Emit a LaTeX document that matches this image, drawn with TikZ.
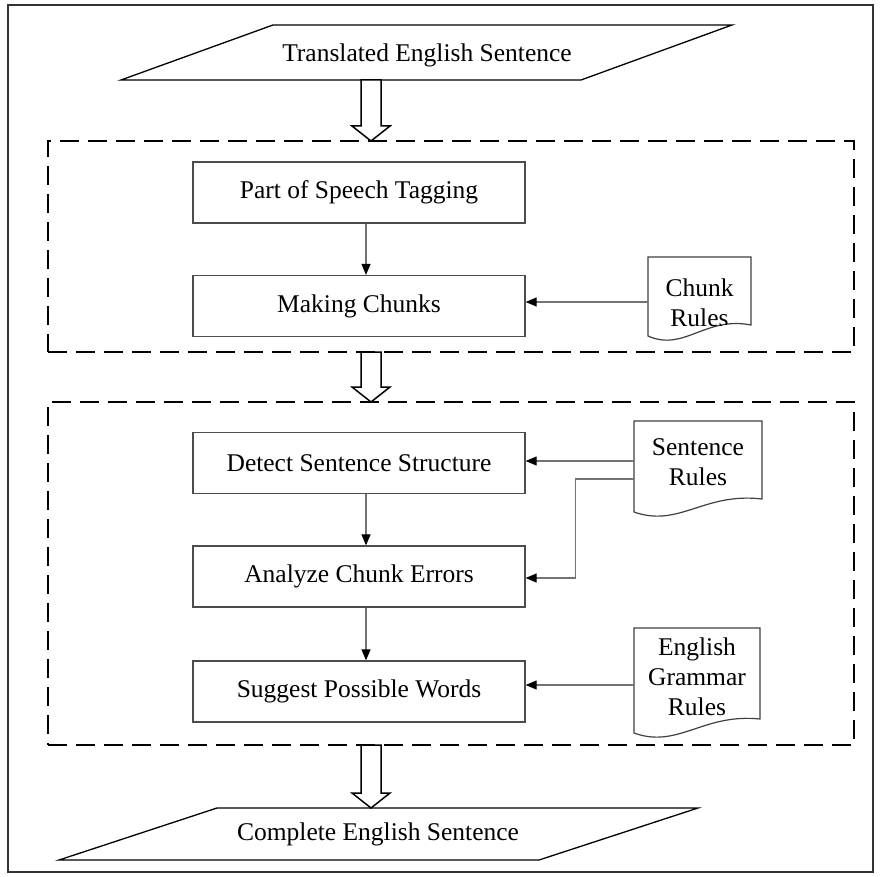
\documentclass[tikz,border=0pt]{standalone}
\usepackage{fontspec}
\setmainfont{Liberation Serif}
\usetikzlibrary{arrows.meta,calc}
\newcommand\blockdown[2]{%
  \draw[hollow] ($(#1)+(-10,0)$) -- ($(#2)+(-10,-15)$) -- ($(#2)+(-19,-15)$) -- (#2)
    -- ($(#2)+(19,-15)$) -- ($(#2)+(10,-15)$) -- ($(#1)+(10,0)$) -- cycle;}
\begin{document}
\begin{tikzpicture}[x=1pt,y=-1pt,
  font=\fontsize{25.5pt}{30pt}\selectfont,
  frame/.style={draw=black!80, line width=1.6pt},
  stage/.style={draw=black, line width=2.6pt, dash pattern=on 19pt off 9pt, minimum width=806pt, inner sep=0pt},
  procbox/.style={draw=black!70, line width=1.3pt, minimum width=332pt, minimum height=61pt, inner sep=0pt, fill=white},
  io/.style={draw=black, line width=1.3pt, fill=white},
  doc/.style={draw=black!75, line width=1.2pt, fill=white},
  doctext/.style={align=center, inner sep=0pt},
  conn/.style={draw=black!55, line width=1.2pt, -{Triangle[length=11pt,width=9pt,color=black]}},
  hollow/.style={draw=black, line width=1.5pt, fill=white},
]
\useasboundingbox (0,0) rectangle (880,877);
\draw[frame] (8,5) rectangle (873,872);

% stages
\node[stage, minimum height=211pt] (stage1) at (451,246.5) {};
\node[stage, minimum height=343pt] (stage2) at (451,573.5) {};

% input / output
\draw[io] (273,25) -- (732,25) -- (581,80) -- (121,80) -- cycle;
\node (inp) at (427,55) {Translated English Sentence};
\draw[io] (217,808) -- (698,808) -- (539,860) -- (59,860) -- cycle;
\node (outp) at (378,834) {Complete English Sentence};

% hollow arrows
\coordinate (h1s) at (371,80);
\coordinate (h1e) at (371,141);
\coordinate (h2s) at (371,352);
\coordinate (h2e) at (371,402);
\coordinate (h3s) at (371,745);
\coordinate (h3e) at (371,808);
\blockdown{h1s}{h1e}
\blockdown{h2s}{h2e}
\blockdown{h3s}{h3e}

% process boxes
\node[procbox] (pos) at (359,192.5) {Part of Speech Tagging};
\node[procbox] (chunks) at (359,306) {Making Chunks};
\node[procbox] (detect) at (359,463) {Detect Sentence Structure};
\node[procbox] (analyze) at (359,576.5) {Analyze Chunk Errors};
\node[procbox] (suggest) at (359,691.5) {Suggest Possible Words};

% documents
\draw[doc] (648,257) -- (751,257) -- (751,325) .. controls (705,316) and (684,352) .. (648,336) -- cycle;
\begin{scope}
\clip (648,257) -- (751,257) -- (751,325) .. controls (705,316) and (684,352) .. (648,336) -- cycle;
\node[doctext] (cr) at (699.5,303) {Chunk\\Rules};
\end{scope}
\draw[doc] (634,421) -- (762,421) -- (762,499) .. controls (704,492) and (679,528) .. (634,512) -- cycle;
\node[doctext] (sr) at (698,462.5) {Sentence\\Rules};
\draw[doc] (634,628) -- (760,628) -- (760,719) .. controls (703,713) and (678,749) .. (634,733) -- cycle;
\node[doctext] (egr) at (697,677) {English\\Grammar\\Rules};

% connectors
\draw[conn] ([xshift=7pt]pos.south) -- ([xshift=7pt]chunks.north);
\draw[conn] ([xshift=7pt]detect.south) -- ([xshift=7pt]analyze.north);
\draw[conn] ([xshift=7pt]analyze.south) -- ([xshift=7pt]suggest.north);

\coordinate (crin) at (648,302);
\draw[conn] (crin) -- (crin -| chunks.east);
\coordinate (sr1) at (634,461);
\draw[conn] (sr1) -- (sr1 -| detect.east);
\coordinate (sr2) at (634,479);
\coordinate (anin) at ([yshift=-1.5pt]analyze.east);
\draw[conn] (sr2) -| ($(anin)+(50,0)$) -- (anin);
\coordinate (egrin) at (634,685);
\draw[conn] (egrin) -- (egrin -| suggest.east);
\end{tikzpicture}
\end{document}
